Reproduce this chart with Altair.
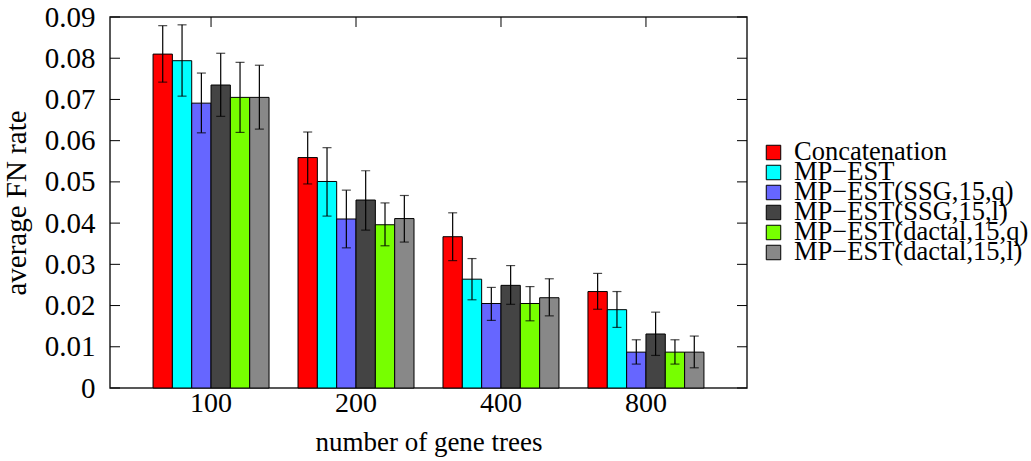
import altair as alt
import pandas as pd

groups = ["100", "200", "400", "800"]
series = ["Concatenation", "MP\u2212EST", "MP\u2212EST(SSG,15,q)", "MP\u2212EST(SSG,15,l)",
          "MP\u2212EST(dactal,15,q)", "MP\u2212EST(dactal,15,l)"]
colors = ["#ff0000", "#00ffff", "#6666ff", "#444444", "#77ff00", "#888888"]

means = [
    [0.0810, 0.0559, 0.0367, 0.0234],
    [0.0794, 0.0501, 0.0264, 0.0190],
    [0.0691, 0.0410, 0.0205, 0.0087],
    [0.0735, 0.0456, 0.0249, 0.0131],
    [0.0705, 0.0396, 0.0205, 0.0087],
    [0.0705, 0.0411, 0.0219, 0.0087],
]
lows = [
    [0.0742, 0.0495, 0.0309, 0.0191],
    [0.0708, 0.0417, 0.0214, 0.0147],
    [0.0619, 0.0340, 0.0164, 0.0058],
    [0.0659, 0.0383, 0.0203, 0.0079],
    [0.0620, 0.0345, 0.0163, 0.0058],
    [0.0628, 0.0354, 0.0175, 0.0049],
]
highs = [
    [0.0879, 0.0621, 0.0425, 0.0278],
    [0.0881, 0.0583, 0.0314, 0.0234],
    [0.0764, 0.0480, 0.0244, 0.0117],
    [0.0812, 0.0527, 0.0297, 0.0184],
    [0.0790, 0.0449, 0.0246, 0.0117],
    [0.0783, 0.0467, 0.0265, 0.0126],
]
y_ticks = [0, 0.01, 0.02, 0.03, 0.04, 0.05, 0.06, 0.07, 0.08, 0.09]

rows = []
for si, s in enumerate(series):
    for gi, g in enumerate(groups):
        rows.append({"group": g, "series": s, "mean": means[si][gi],
                     "lo": lows[si][gi], "hi": highs[si][gi]})
df = pd.DataFrame(rows)
ticks_df = pd.DataFrame({"v": y_ticks})
groups_df = pd.DataFrame({"group": groups})
legend_df = pd.DataFrame({"series": series})

FONT = "Liberation Serif"
W, H = 637, 371

xscale = alt.Scale(domain=groups, paddingInner=0.2, paddingOuter=0.297)
yscale = alt.Scale(domain=[0, 0.09], nice=False)
cscale = alt.Scale(domain=series, range=colors)
xoff = alt.XOffset("series:N", sort=series, scale=alt.Scale(domain=series, paddingInner=0, paddingOuter=0))

base = alt.Chart(df)

bars = base.mark_bar(stroke="black", strokeWidth=1).encode(
    x=alt.X("group:N", sort=groups, scale=xscale,
            axis=alt.Axis(title="number of gene trees", labelAngle=0, tickSize=0,
                          domain=False, labelPadding=1, titlePadding=12)),
    xOffset=xoff,
    y=alt.Y("mean:Q", scale=yscale,
            axis=alt.Axis(title="average FN rate", values=y_ticks, format="~g",
                          tickSize=0, domain=False, grid=False, labelPadding=15,
                          titlePadding=13, labelFontSize=29)),
    color=alt.Color("series:N", sort=series, scale=cscale, legend=None),
)

err = base.mark_rule(color="black", strokeWidth=1.2).encode(
    x=alt.X("group:N", sort=groups, scale=xscale),
    xOffset=xoff,
    y=alt.Y("lo:Q", scale=yscale, axis=None),
    y2="hi:Q",
)
cap_lo = base.mark_tick(color="black", size=9, thickness=1.2, orient="horizontal").encode(
    x=alt.X("group:N", sort=groups, scale=xscale),
    xOffset=xoff,
    y=alt.Y("lo:Q", scale=yscale, axis=None),
)
cap_hi = base.mark_tick(color="black", size=9, thickness=1.2, orient="horizontal").encode(
    x=alt.X("group:N", sort=groups, scale=xscale),
    xOffset=xoff,
    y=alt.Y("hi:Q", scale=yscale, axis=None),
)

left_ticks = alt.Chart(ticks_df).mark_rule(color="black", strokeWidth=1).encode(
    y=alt.Y("v:Q", scale=yscale, axis=None), x=alt.value(0), x2=alt.value(10))
right_ticks = alt.Chart(ticks_df).mark_rule(color="black", strokeWidth=1).encode(
    y=alt.Y("v:Q", scale=yscale, axis=None), x=alt.value(W - 10), x2=alt.value(W))
top_ticks = alt.Chart(groups_df).mark_rule(color="black", strokeWidth=1).encode(
    x=alt.X("group:N", sort=groups, scale=xscale, bandPosition=0.5),
    y=alt.value(0), y2=alt.value(10))

# legend drawn as its own layer (gnuplot-style tight rows)
leg_y = alt.Y("series:N", sort=series,
              scale=alt.Scale(domain=series, range=[135.5, 235.5], padding=0), axis=None)
leg_sw = alt.Chart(legend_df).mark_point(shape="square", size=210, filled=True,
                                         stroke="black", strokeWidth=1, opacity=1).encode(
    x=alt.value(W + 26.5), y=leg_y,
    fill=alt.Fill("series:N", sort=series, scale=cscale, legend=None),
)
leg_tx = alt.Chart(legend_df).mark_text(align="left", baseline="alphabetic", dy=7,
                                        font=FONT, fontSize=26.5, color="black").encode(
    x=alt.value(W + 47), y=leg_y, text="series:N",
)

chart = alt.layer(bars, err, cap_lo, cap_hi, left_ticks, right_ticks, top_ticks,
                  leg_sw, leg_tx).resolve_scale(y="independent").properties(
    width=W, height=H,
    autosize=alt.AutoSizeParams(type="none"),
    padding={"left": 110, "top": 17, "right": 284, "bottom": 73},
).configure_view(
    stroke="#222222", strokeWidth=1.5
).configure_axis(
    labelFont=FONT, titleFont=FONT, labelFontSize=28, titleFontSize=27,
    labelColor="black", titleColor="black", titleFontWeight="normal",
).configure_axisY(
    titleFontSize=29
)

chart.save("out.html", embed_options={"renderer": "svg", "actions": False})
